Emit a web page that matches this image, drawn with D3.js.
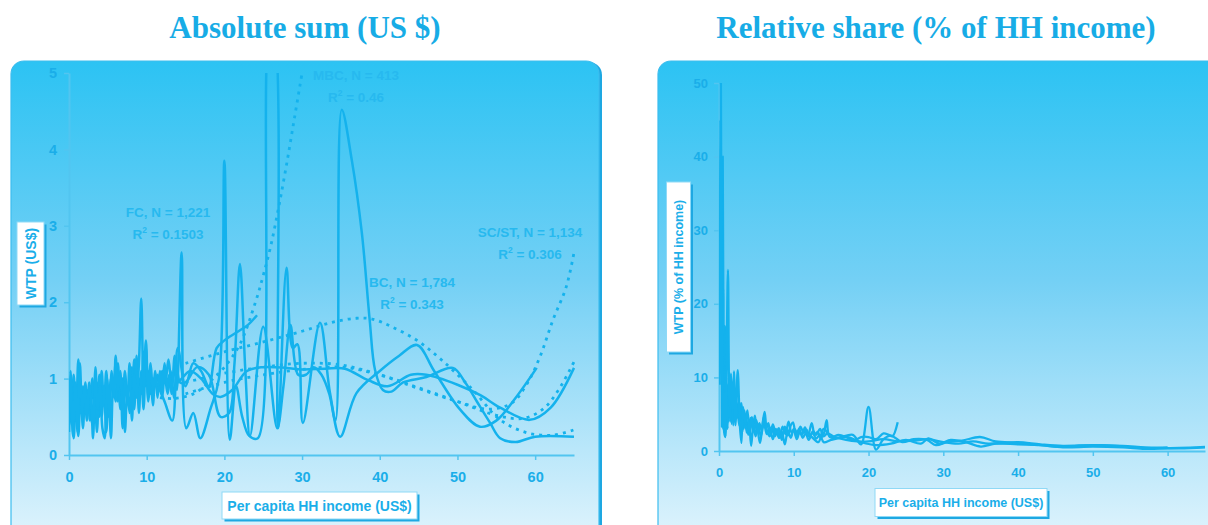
<!DOCTYPE html>
<html>
<head>
<meta charset="utf-8">
<script src="https://cdn.jsdelivr.net/npm/d3@7"></script>
<style>
  html, body { margin: 0; padding: 0; background: #ffffff; }
  svg { display: block; }
</style>
</head>
<body>
<svg id="chart" width="1208" height="525"></svg>
<script>
// ---------- Ticks ----------
const xTicks = [0, 10, 20, 30, 40, 50, 60];
const yTicksAbs = [0, 1, 2, 3, 4, 5];
const yTicksRel = [0, 10, 20, 30, 40, 50];

// ---------- Group annotations ----------
const groupNames = ["FC", "MBC", "BC", "SC/ST"];
const groupN = ["1,221", "413", "1,784", "1,134"];
const groupR2 = ["0.1503", "0.46", "0.343", "0.306"];

// ---------- Absolute WTP (US$) by per-capita income, smoothed ----------
const absFC = [
  [0,0.5],[0.2,1.1],[0.5,0.25],[0.8,0.95],[1.1,0.3],[1.4,1.2],[1.7,0.55],[2.0,0.9],[2.3,0.45],[2.6,0.95],
  [2.9,0.6],[3.1,0.22],[3.4,1.15],[3.7,0.6],[4.0,0.9],[4.3,0.35],[4.6,0.22],[4.9,1.0],[5.2,0.6],[5.5,1.1],
  [5.8,0.75],[6.0,1.3],[6.3,0.85],[6.6,1.1],[6.9,0.35],[7.2,0.95],[7.5,0.7],[7.8,1.2],[8.1,0.45],[8.4,1.05],
  [8.7,0.75],[9.0,1.2],[9.3,2.05],[9.6,0.9],[9.9,1.5],[10.2,0.75],[10.5,1.2],[10.8,0.85],[11.1,1.05],[11.4,0.75],
  [11.7,1.1],[12.0,0.9],[12.3,1.2],[12.6,0.9],[12.9,1.05],[13.2,0.8],[13.6,1.3],[13.9,0.85],[14.5,2.65],[15.1,0.35],
  [16.0,0.55],[16.9,0.22],[18.2,0.6],[19.3,1.0],[20.0,3.85],[20.7,0.2],[21.5,0.9],[22.3,0.5],[23.2,0.25],[24.3,0.22],
  [25.9,5.6],[26.3,5.6],[26.9,0.35],[28.0,2.45],[28.8,1.4],[29.4,1.45],[30.1,0.42],[32.3,1.73],[33.6,0.81],[34.9,0.24],
  [37.0,0.81],[40.0,1.1],[42.5,1.3],[44.8,1.44],[47.0,1.1],[50.3,0.6],[52.9,0.37],[55.0,0.45],[57.5,0.75],[60.2,1.14]
];
const absMBC = [
  [11.5,0.9],[12.3,0.7],[13.3,0.45],[14.0,1.4],[15.0,0.9],[16.0,1.2],[17.0,1.1],[18.0,0.9],[19.0,1.4],[20.0,1.5],
  [21.5,1.6],[23.0,1.7],[24.2,1.83]
];
const absBC = [
  [0,0.8],[0.3,0.4],[0.6,1.05],[0.9,0.5],[1.2,1.25],[1.5,0.6],[1.8,0.9],[2.1,0.6],[2.4,0.85],[2.7,0.45],
  [3.0,1.0],[3.3,0.6],[3.6,0.95],[3.9,0.5],[4.2,1.1],[4.5,0.65],[4.8,1.1],[5.1,0.5],[5.4,1.0],[5.7,0.8],
  [6.0,1.2],[6.3,0.7],[6.6,0.95],[6.9,0.6],[7.2,1.1],[7.5,0.8],[7.8,0.95],[8.1,0.7],[8.4,1.25],[8.7,0.85],
  [9.0,1.0],[9.3,0.8],[9.6,1.35],[9.9,0.9],[10.2,1.1],[10.5,0.8],[10.8,1.0],[11.1,0.9],[11.4,1.05],[11.7,0.9],
  [12.0,1.1],[12.4,0.95],[12.8,1.25],[13.2,0.95],[13.6,1.1],[14.0,0.95],[14.5,1.0],[15.6,1.1],[17.0,1.0],[18.5,0.8],
  [19.5,0.76],[21.0,0.85],[22.9,1.1],[25.0,1.15],[28.0,1.14],[30.0,1.12],[33.0,1.13],[35.5,1.13],[38.5,0.98],[41.0,0.9],
  [44.0,1.05],[46.0,1.05],[50.0,0.92],[53.0,0.78],[55.5,0.62],[59.3,0.46],[62.0,0.62],[65.0,1.14]
];
const absSCST = [
  [0,0.3],[0.3,0.9],[0.6,0.22],[0.9,0.7],[1.2,0.25],[1.5,0.85],[1.8,0.35],[2.1,0.95],[2.4,0.55],[2.7,0.9],
  [3.0,0.4],[3.3,0.8],[3.6,0.3],[3.9,1.05],[4.2,0.5],[4.5,0.9],[4.8,0.3],[5.1,0.85],[5.4,0.22],[5.7,0.95],
  [6.0,0.7],[6.3,1.2],[6.6,0.6],[6.9,1.0],[7.2,0.3],[7.5,0.85],[7.8,0.55],[8.1,1.15],[8.4,0.6],[8.7,1.3],
  [9.0,0.55],[9.3,1.1],[9.6,0.6],[9.9,1.4],[10.2,0.7],[10.5,1.0],[10.8,0.65],[11.1,1.1],[11.4,0.8],[11.7,1.0],
  [12.0,0.75],[12.3,1.05],[12.7,0.8],[13.1,1.1],[13.5,0.75],[13.9,1.1],[14.3,0.95],[15.0,0.95],[16.5,1.15],[18.0,1.05],
  [19.5,0.5],[20.6,0.55],[21.3,1.2],[22.0,2.5],[22.7,1.1],[23.3,0.25],[25.0,1.68],[26.8,0.35],[27.6,0.9],[28.5,1.7],
  [29.5,1.05],[30.5,1.05],[31.5,1.15],[32.5,1.05],[33.5,0.8],[34.3,0.45],[35.1,4.52],[36.4,3.86],[37.7,2.9],[38.7,1.77],
  [39.4,1.11],[40.4,0.85],[41.5,0.83],[43.0,0.95],[46.0,1.02],[49.4,1.14],[51.0,0.95],[52.5,0.7],[54.2,0.42],[55.5,0.22],
  [57.5,0.17],[60.0,0.24],[65.0,0.24]
];

// ---------- Polynomial trend lines (absolute) ----------
const trendMBC = [[11.7,0.75],[13.5,0.74],[16,0.8],[18,0.95],[20,1.15],[22,1.45],[24,2.0],[25,2.35],[26,2.75],[27,3.25],[28,3.8],[29,4.4],[30,5.0]];
const trendBC = [[15,1.2],[20,1.35],[25,1.48],[30,1.62],[34,1.74],[37,1.79],[39,1.78],[41.5,1.68],[44.8,1.5],[48,1.24],[52,0.85],[55.5,0.46],[59,0.29],[62.3,0.26],[65,0.33]];
const trendFC = [[15,0.8],[20,0.95],[25,1.05],[30,1.12],[35,1.15],[40,1.05],[45,0.88],[50,0.7],[55,0.52],[58.5,0.48],[61,0.6],[63,0.85],[65,1.22]];
const trendSCST = [[15,0.95],[20,1.07],[25,1.15],[30,1.2],[35,1.18],[40,1.05],[45,0.87],[50,0.7],[54,0.6],[57,0.68],[59,0.94],[60.6,1.28],[62.3,1.77],[64,2.2],[65,2.65]];

// ---------- Relative WTP (% of household income) ----------
const relFC = [
  [0.1,9],[0.25,50.5],[0.4,12],[0.55,3],[0.7,8],[0.85,2],[1.0,11],[1.2,24.6],[1.4,6],[1.6,10.5],
  [1.8,5],[2.0,10.8],[2.2,3.5],[2.5,11],[2.8,3.3],[3.0,1.1],[3.2,6.0],[3.5,3.8],[3.8,5.5],[4.1,2.4],
  [4.4,4.6],[4.7,2.8],[5.0,4.2],[5.3,2.0],[5.5,1.1],[5.8,3.4],[6.1,5.3],[6.4,2.8],[6.8,2.0],[7.2,3.6],
  [7.6,2.4],[8.0,3.1],[8.4,1.5],[8.8,3.3],[9.2,2.1],[9.6,3.5],[9.9,3.9],[10.3,2.0],[10.7,3.0],[11.1,2.2],
  [11.5,3.2],[11.9,2.0],[12.4,3.8],[12.8,2.2],[13.2,2.6],[13.6,1.8],[14.0,2.3],[14.4,4.2],[14.8,1.9],[16.0,1.8],
  [17.9,2.2],[19.0,0.9],[20.0,6.0],[21.0,0.2],[22.0,1.6],[23.0,2.1],[24.5,1.2],[26.0,1.6],[27.8,1.5],[29.0,0.8],
  [30.5,1.2],[32.5,1.4],[34.9,1.9],[37.0,1.3],[39.8,1.1],[42.0,0.9],[45.0,0.6],[48.0,0.7],[51.0,0.8],[54.0,0.6],
  [57.0,0.4],[60.0,0.5]
];
const relMBC = [
  [11.5,2.5],[12.3,2.0],[13.3,1.2],[14.0,3.0],[15.0,1.9],[16.0,2.2],[17.0,1.9],[18.0,1.4],[19.0,1.9],[20.0,1.9],
  [21.0,1.6],[22.0,2.4],[22.7,2.2],[23.2,2.0],[23.9,3.9]
];
const relBC = [
  [0.05,14],[0.2,45],[0.35,20],[0.5,40],[0.65,4],[0.8,17],[0.95,3.5],[1.1,9],[1.3,4],[1.5,8],
  [1.7,3.7],[1.9,7],[2.1,4],[2.4,6.5],[2.7,3.5],[3.0,6.5],[3.3,3],[3.6,5],[3.9,2.2],[4.2,4.5],
  [4.5,3.0],[4.8,4.8],[5.1,2.5],[5.4,3.8],[5.7,2.8],[6.0,4.6],[6.3,3.0],[6.6,3.8],[6.9,2.2],[7.2,3.0],
  [7.5,2.0],[7.8,2.8],[8.1,1.8],[8.5,3.3],[8.9,2.3],[9.3,4.0],[9.7,2.5],[10.1,3.0],[10.5,2.4],[10.9,3.3],
  [11.3,2.5],[11.7,2.9],[12.1,2.0],[12.6,2.7],[13.0,2.2],[13.5,3.0],[14.0,2.0],[14.5,2.4],[15.5,1.9],[17.0,1.5],
  [18.5,1.3],[20.0,1.3],[22.0,1.6],[24.0,1.3],[26.0,1.4],[28.0,1.6],[30.0,1.2],[32.0,1.0],[34.0,1.3],[36.0,1.0],
  [38.0,1.1],[40.0,1.2],[43.0,0.9],[46.0,0.7],[50.0,0.8],[54.0,0.7],[57.0,0.5],[60.0,0.4],[63.0,0.45],[65.0,0.55]
];
const relSCST = [
  [0.1,17.4],[0.3,35],[0.4,3.3],[0.55,22],[0.7,2.5],[0.85,1.9],[1.0,7],[1.15,3],[1.3,10],[1.5,4],
  [1.7,9],[1.9,3.5],[2.2,8],[2.5,4.5],[2.8,6.5],[3.1,2.5],[3.4,5.5],[3.7,2.5],[4.0,4.0],[4.3,0.7],
  [4.6,3.5],[4.9,2.0],[5.2,3.6],[5.6,2.0],[6.0,3.8],[6.4,2.3],[6.8,3.2],[7.2,1.6],[7.6,3.0],[8.0,1.8],
  [8.4,2.6],[8.8,0.9],[9.2,2.8],[9.6,1.8],[10.0,3.0],[10.4,1.6],[10.8,2.6],[11.2,1.8],[11.6,2.4],[12.0,1.5],
  [12.5,2.5],[13.0,1.7],[13.5,2.2],[14.0,1.2],[15.0,1.5],[17.0,1.9],[19.0,1.2],[21.0,0.8],[23.0,1.0],[25.0,1.5],
  [27.0,1.0],[28.0,1.7],[29.5,1.0],[31.0,1.5],[33.0,1.2],[35.0,0.6],[37.0,1.0],[40.0,0.9],[43.0,0.8],[46.0,0.5],
  [50.0,0.6],[54.0,0.5],[57.0,0.3],[60.0,0.35],[63.0,0.4],[65.0,0.5]
];

// ---------- Styling ----------
const LINE = "#14b2ed";
const TEXT = "#1aaee9";
const LABEL = "#27b9ef";
const AXIS = "#52c5f0";
const TITLE = "#17ace6";
const SANS = "'Liberation Sans', Arial, sans-serif";
const SERIF = "'Liberation Serif', 'Times New Roman', serif";

const svg = d3.select("#chart");
const defs = svg.append("defs");

const grad = defs.append("linearGradient")
  .attr("id", "panelFill").attr("x1", 0).attr("y1", 0).attr("x2", 0).attr("y2", 1);
grad.append("stop").attr("offset", "0%").attr("stop-color", "#2cc3f3");
grad.append("stop").attr("offset", "45%").attr("stop-color", "#74d0f5");
grad.append("stop").attr("offset", "100%").attr("stop-color", "#e4f5fd");

function drawPanel(cfg) {
  const g = svg.append("g");

  // rounded backdrop with darker right edge
  g.append("rect")
    .attr("x", cfg.box[0] + 3).attr("y", cfg.box[1] + 1)
    .attr("width", cfg.box[2]).attr("height", cfg.box[3])
    .attr("rx", 13).attr("fill", "#1ea8e2");
  g.append("rect")
    .attr("x", cfg.box[0]).attr("y", cfg.box[1])
    .attr("width", cfg.box[2]).attr("height", cfg.box[3])
    .attr("rx", 13).attr("fill", "url(#panelFill)")
    .attr("stroke", "#3cbdee").attr("stroke-width", 1.2);

  // title
  svg.append("text")
    .attr("x", cfg.titleX).attr("y", 38)
    .attr("text-anchor", "middle")
    .attr("font-family", SERIF).attr("font-weight", "bold")
    .attr("font-size", 31).attr("fill", TITLE)
    .text(cfg.title);

  const x = d3.scaleLinear().domain([0, 65]).range(cfg.xRange);
  const y = d3.scaleLinear().domain(cfg.yDomain).range(cfg.yRange);

  // axes
  const xAxis = d3.axisBottom(x).tickValues(xTicks).tickSize(5).tickSizeOuter(0)
    .tickPadding(cfg.xPad).tickFormat(d3.format("d"));
  const yAxis = d3.axisLeft(y).tickValues(cfg.yTicks).tickSize(5).tickSizeOuter(0)
    .tickPadding(cfg.yPad).tickFormat(d3.format("d"));

  const gx = g.append("g").attr("transform", `translate(0,${cfg.yRange[0]})`).call(xAxis);
  const gy = g.append("g").attr("transform", `translate(${cfg.xRange[0]},0)`).call(yAxis);
  [gx, gy].forEach(a => {
    a.select(".domain").attr("stroke", AXIS).attr("stroke-width", 2);
    a.selectAll(".tick line").attr("stroke", AXIS).attr("stroke-width", 1.5);
    a.selectAll(".tick text")
      .attr("fill", TEXT).attr("font-family", SANS)
      .attr("font-weight", "bold").attr("font-size", cfg.tickFont);
  });

  // clip to plotting area
  const clipId = "clip" + cfg.id;
  defs.append("clipPath").attr("id", clipId)
    .append("rect")
    .attr("x", cfg.xRange[0]).attr("y", cfg.yRange[1])
    .attr("width", cfg.xRange[1] - cfg.xRange[0] + 10)
    .attr("height", cfg.yRange[0] - cfg.yRange[1] + 6);

  const plot = g.append("g").attr("clip-path", `url(#${clipId})`);
  const line = d3.line()
    .x(d => x(d[0])).y(d => y(d[1]))
    .curve(d3.curveCatmullRom.alpha(0.5));

  (cfg.trends || []).forEach(t => {
    plot.append("path").datum(t)
      .attr("d", line).attr("fill", "none")
      .attr("stroke", LINE).attr("stroke-width", 2.8)
      .attr("stroke-dasharray", "3,5");
  });
  cfg.series.forEach(s => {
    plot.append("path").datum(s)
      .attr("d", line).attr("fill", "none")
      .attr("stroke", LINE).attr("stroke-width", cfg.lineW)
      .attr("stroke-linejoin", "round");
  });

  // axis title boxes
  function titleBox(cx, cy, w, h, label, rotate, fs) {
    const b = g.append("g").attr("transform", `translate(${cx},${cy})`);
    b.append("rect").attr("x", -w / 2 + 2.5).attr("y", -h / 2 + 2.5)
      .attr("width", w).attr("height", h).attr("fill", "#1ea8e2");
    b.append("rect").attr("x", -w / 2).attr("y", -h / 2)
      .attr("width", w).attr("height", h).attr("fill", "#ffffff")
      .attr("stroke", "#8fd9f6").attr("stroke-width", 1);
    b.append("text")
      .attr("transform", rotate ? "rotate(-90)" : null)
      .attr("text-anchor", "middle").attr("dy", "0.36em")
      .attr("font-family", SANS).attr("font-weight", "bold")
      .attr("font-size", fs).attr("fill", TEXT)
      .text(label);
  }
  titleBox(cfg.yTitle[0], cfg.yTitle[1], cfg.yTitle[2], cfg.yTitle[3], cfg.yLabel, true, cfg.titleFont);
  titleBox(cfg.xTitle[0], cfg.xTitle[1], cfg.xTitle[2], cfg.xTitle[3], "Per capita HH income (US$)", false, cfg.titleFont);

  return { g, x, y };
}

// ---------- Left panel: absolute sum ----------
const left = drawPanel({
  id: "A", box: [11, 61, 588, 490], title: "Absolute sum (US $)", titleX: 305,
  xRange: [69, 574], yRange: [455, 73], yDomain: [0, 5], yTicks: yTicksAbs,
  xPad: 12, yPad: 7, tickFont: 14.5, lineW: 2.5,
  series: [absBC, absSCST, absFC, absMBC],
  trends: [trendMBC, trendBC, trendFC, trendSCST],
  yLabel: "WTP (US$)", yTitle: [30.5, 263.5, 27, 83],
  xTitle: [319.5, 505.5, 195, 27], titleFont: 14
});

// group annotations, two lines each
const annot = [
  { i: 0, cx: 168, base: 217 },
  { i: 1, cx: 356, base: 80 },
  { i: 2, cx: 412, base: 287 },
  { i: 3, cx: 530, base: 237 }
];
annot.forEach(a => {
  left.g.append("text")
    .attr("x", a.cx).attr("y", a.base).attr("text-anchor", "middle")
    .attr("font-family", SANS).attr("font-weight", "bold").attr("font-size", 13.5)
    .attr("fill", LABEL)
    .text(`${groupNames[a.i]}, N = ${groupN[a.i]}`);
  const t2 = left.g.append("text")
    .attr("x", a.cx).attr("y", a.base + 22).attr("text-anchor", "middle")
    .attr("font-family", SANS).attr("font-weight", "bold").attr("font-size", 13.5)
    .attr("fill", LABEL);
  t2.append("tspan").text("R");
  t2.append("tspan").attr("font-size", 8.5).attr("dy", -6).text("2");
  t2.append("tspan").attr("dy", 6).text(` = ${groupR2[a.i]}`);
});

// ---------- Right panel: relative share ----------
drawPanel({
  id: "R", box: [658, 61, 570, 490], title: "Relative share (% of HH income)", titleX: 936,
  xRange: [719, 1205], yRange: [451, 83], yDomain: [0, 50], yTicks: yTicksRel,
  xPad: 12, yPad: 6, tickFont: 13, lineW: 2.3,
  series: [relBC, relSCST, relFC, relMBC],
  trends: [],
  yLabel: "WTP (% of HH income)", yTitle: [678.5, 267, 24, 170],
  xTitle: [961, 502.5, 172, 28], titleFont: 12.5
});
</script>
</body>
</html>
